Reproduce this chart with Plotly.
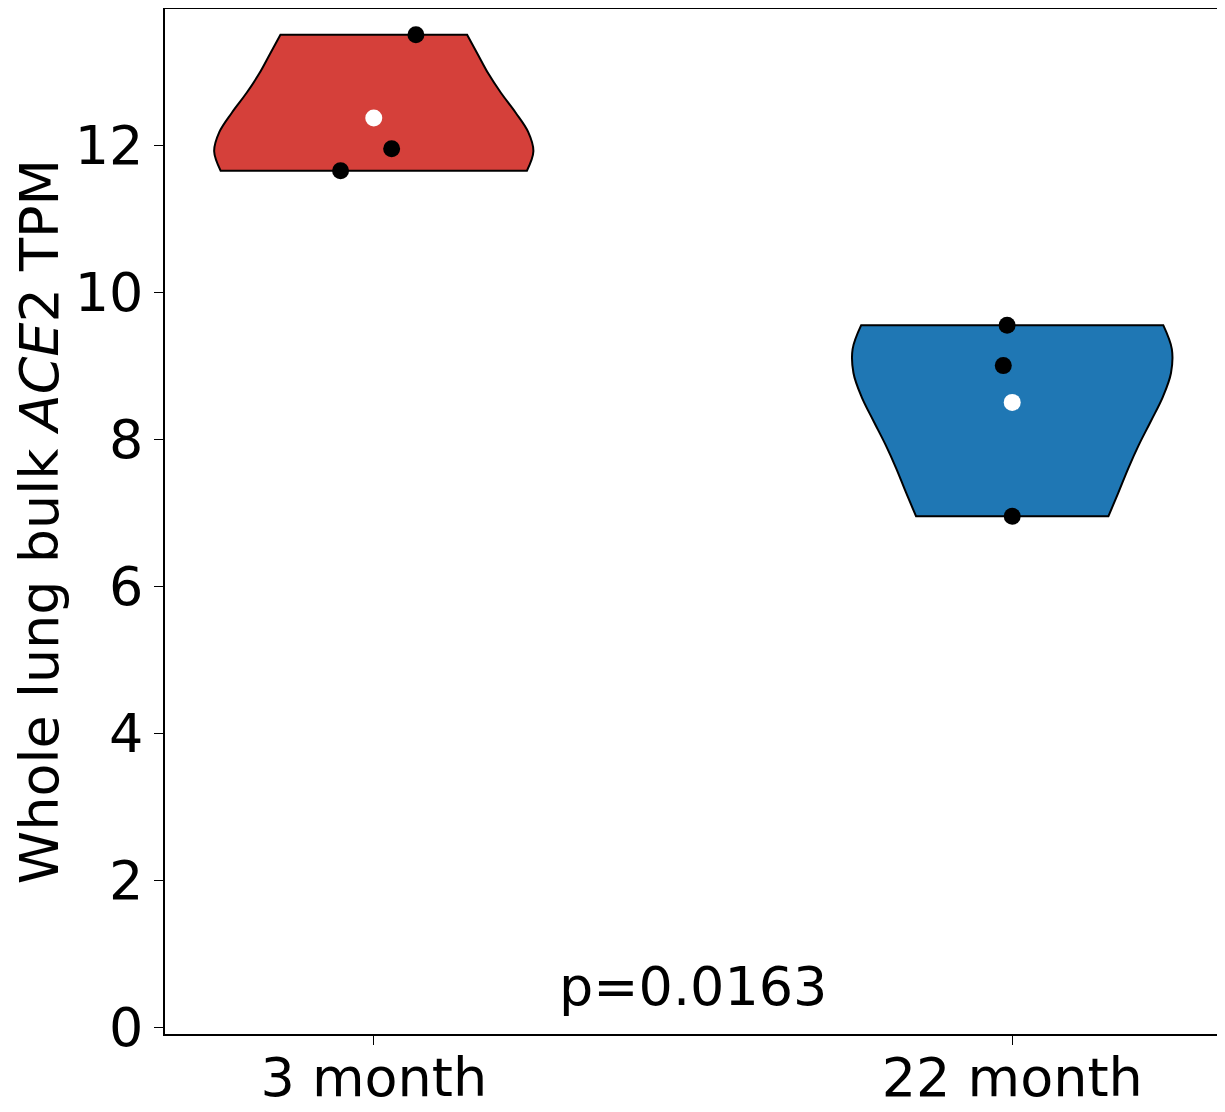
import numpy as np
import plotly.graph_objects as go

groups = ["3 month", "22 month"]
positions = [0, 1]
values_3m = [13.5, 11.95, 11.65]
values_22m = [9.55, 9.0, 6.95]
jitter_3m = [0.066, 0.028, -0.052]
jitter_22m = [-0.008, -0.014, 0.0]
colors = ["rgb(213,64,58)", "rgb(31,119,180)"]
p_text = "p=0.0163"

all_values = [values_3m, values_22m]
all_jitter = [jitter_3m, jitter_22m]

FONT = "DejaVu Sans"
fig = go.Figure()

for pos, vals, jit, col in zip(positions, all_values, all_jitter, colors):
    v = np.array(vals)
    bw = v.std(ddof=1) * len(v) ** (-1 / 5)  # Scott's rule, like matplotlib
    fig.add_trace(go.Violin(
        x0=pos, y=vals, orientation="v",
        fillcolor=col, opacity=1,
        line=dict(color="black", width=2),
        spanmode="hard", bandwidth=bw, width=0.5, scalemode="width",
        points=False, box_visible=False, meanline_visible=False,
        hoverinfo="skip", showlegend=False,
    ))
    fig.add_trace(go.Scatter(
        x=[pos + j for j in jit], y=vals, mode="markers",
        marker=dict(color="black", size=17), showlegend=False, hoverinfo="skip",
    ))
    fig.add_trace(go.Scatter(
        x=[pos], y=[float(v.mean())], mode="markers",
        marker=dict(color="white", size=17), showlegend=False, hoverinfo="skip",
    ))

fig.add_annotation(
    x=0.5, y=0.55, xref="x", yref="y", text=p_text, showarrow=False,
    font=dict(family=FONT, size=54, color="black"), yanchor="middle",
)

axis_common = dict(
    showline=True, linecolor="black", linewidth=1.5, mirror=True,
    ticks="outside", ticklen=9, tickwidth=1.2, tickcolor="black",
    showgrid=False, zeroline=False, automargin=False,
    tickfont=dict(family=FONT, size=54, color="black"),
)

# page body adds an 8px offset
fig.update_layout(
    width=1217, height=1104,
    margin=dict(l=157, r=4, t=1, b=78),
    plot_bgcolor="white", paper_bgcolor="white",
    violinmode="overlay",
    xaxis=dict(range=[-0.327, 1.327], tickvals=positions, ticktext=groups,
               ticklabelstandoff=-14, **axis_common),
    yaxis=dict(range=[-0.09, 13.85], tickvals=[0, 2, 4, 6, 8, 10, 12],
               title=dict(text="Whole lung bulk <i>ACE</i>2 TPM", standoff=23,
                          font=dict(family=FONT, size=54, color="black")),
               **axis_common),
)

fig.write_html("out.html")
